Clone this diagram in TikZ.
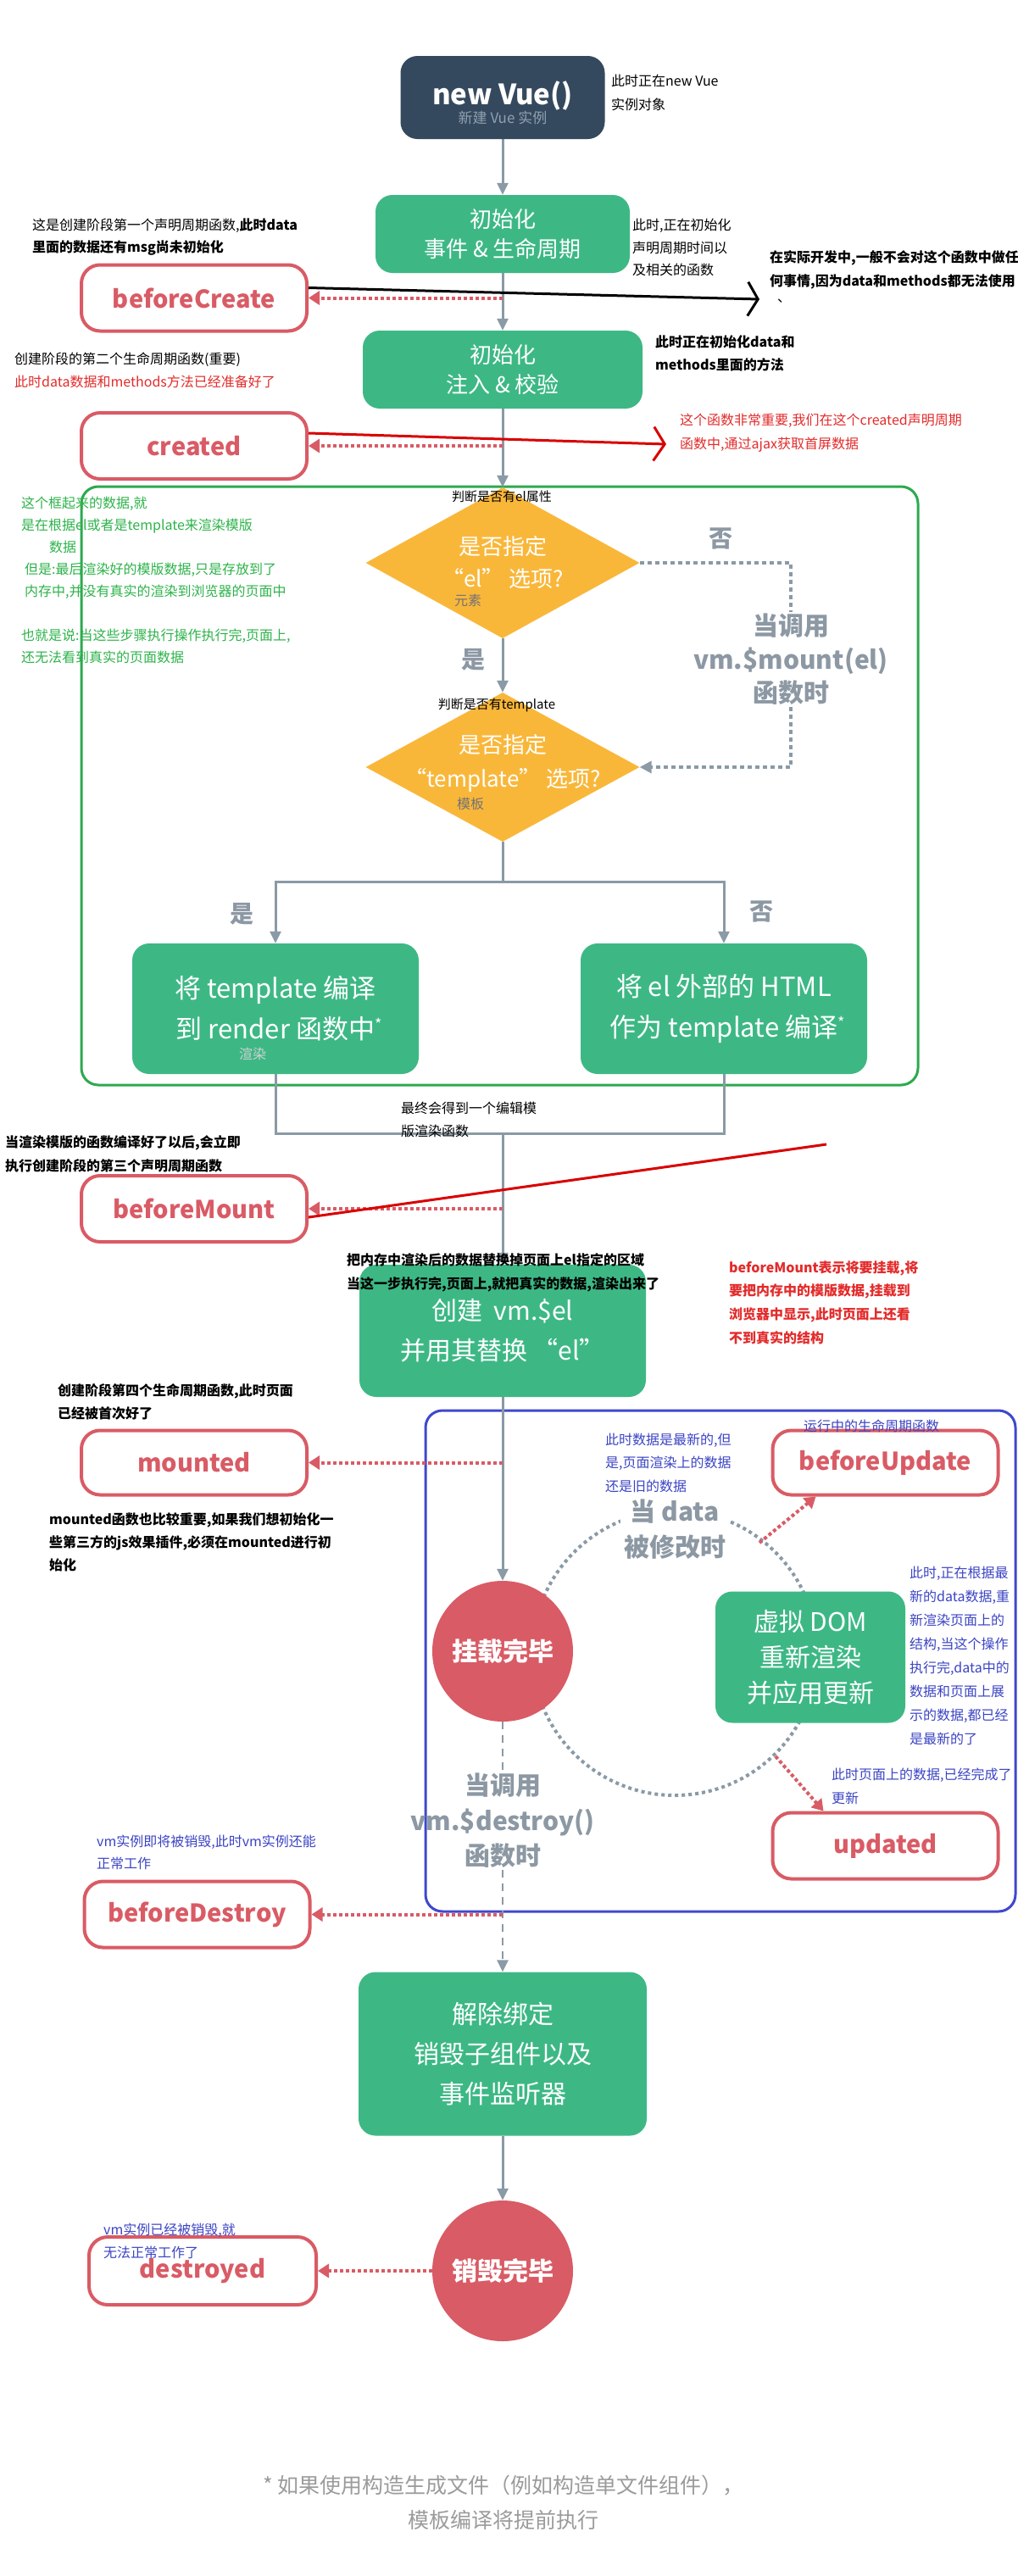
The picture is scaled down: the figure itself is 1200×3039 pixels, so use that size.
\documentclass[tikz,border=0pt]{standalone}
\usepackage{fontspec}
\setmainfont{Noto Sans CJK SC}
\usetikzlibrary{shapes.geometric,arrows.meta,calc}
\definecolor{vgreen}{HTML}{3DB885}
\definecolor{vdark}{HTML}{35495E}
\definecolor{vred}{HTML}{D95B65}
\definecolor{vorange}{HTML}{F9B73A}
\definecolor{vgray}{HTML}{8A9AA6}
\definecolor{txtgray}{HTML}{8C98A3}
\definecolor{subgray}{HTML}{8FA0B0}
\definecolor{frameg}{HTML}{2DA94F}
\definecolor{frameb}{HTML}{3F48CC}
\definecolor{annr}{HTML}{E32B2B}
\definecolor{anng}{HTML}{2DB34A}
\definecolor{annb}{HTML}{3B44C4}
\definecolor{footg}{HTML}{9B9B9B}
\newcommand{\fsz}[2]{\fontsize{#1pt}{#2pt}\selectfont}
\pgfdeclarelayer{bgzero}\pgfdeclarelayer{bgone}
\pgfsetlayers{bgzero,bgone,main}
\tikzset{
  gbox/.style={fill=vgreen, rounded corners=20pt, text=white, inner sep=0pt, align=center},
  hook/.style={draw=vred, line width=4pt, fill=white, rounded corners=22pt, text=vred, inner sep=0pt,
    minimum width=266pt, minimum height=78pt, font=\fsz{29}{29}\bfseries},
  decis/.style={diamond, fill=vorange, inner sep=0pt, minimum width=323pt, minimum height=178pt},
  endc/.style={circle, fill=vred, inner sep=0pt, minimum size=166pt, text=white, font=\fsz{30}{30}\bfseries},
  flow/.style={draw=vgray, line width=3pt},
  flowarr/.style={flow, -{Triangle[length=14pt,width=13pt]}},
  hookarr/.style={draw=vred, line width=4pt, dash pattern=on 4pt off 3pt, -{Triangle[length=13pt,width=16pt]}},
  mountline/.style={draw=vgray, line width=3.5pt, dash pattern=on 5pt off 4pt},
  destline/.style={draw=vgray, line width=2.5pt, dash pattern=on 9pt off 7pt},
  arcline/.style={draw=vgray, line width=4pt, dash pattern=on 4pt off 4pt},
  note/.style={anchor=west, align=left, inner sep=0pt},
  glabel/.style={text=txtgray, align=center, inner sep=2pt},
  small/.style={inner sep=0pt, font=\fsz{15}{15}},
}
\begin{document}
\begin{tikzpicture}[x=1pt,y=-1pt]
\begin{pgfonlayer}{bgzero}
\fill[white] (0,0) rectangle (1200,3039);
\end{pgfonlayer}
\useasboundingbox (0,0) rectangle (1200,3039);

% ---- main flow nodes ----
\node[fill=vdark, rounded corners=20pt, minimum width=241pt, minimum height=98pt, inner sep=0pt] (newvue) at (593,115) {};
\node[text=white, align=center, inner sep=0pt] (newvuet) at (593,121) {{\fsz{33}{37}\bfseries new Vue()}\\{\fsz{17}{37}\color{subgray}新建 Vue 实例}};
\node[gbox, minimum width=300pt, minimum height=92pt, font=\fsz{26}{35}] (init1) at (593,276) {初始化\\事件 \& 生命周期};
\node[gbox, minimum width=330pt, minimum height=92pt, font=\fsz{26}{35}] (init2) at (593,436) {初始化\\注入 \& 校验};
\node[decis] (d1) at (593,664) {};
\node[text=white, align=center, inner sep=0pt, font=\fsz{26}{38}] (d1t) at (593,664) {是否指定\\“el” 选项?};
\node[decis, minimum height=176pt] (d2) at (593,905) {};
\node[text=white, align=center, inner sep=0pt, font=\fsz{26}{40}] (d2t) at (593,900) {是否指定\\“template” 选项?};
\node[gbox, minimum width=338pt, minimum height=154pt, font=\fsz{31}{48}] (tplL) at (325,1190) {将 template 编译\\到 render 函数中\rlap{\raisebox{10pt}{\fsz{18}{18}*}}};
\node[gbox, minimum width=338pt, minimum height=154pt, font=\fsz{31}{48}] (tplR) at (854,1190) {将 el 外部的 HTML\\作为 template 编译\rlap{\raisebox{10pt}{\fsz{18}{18}*}}};
\node[gbox, minimum width=338pt, minimum height=156pt, font=\fsz{30}{47}] (create) at (593,1570) {创建 \ vm.\$el\\并用其替换 “el”};
\node[endc] (mountc) at (593,1948) {挂载完毕};
\node[gbox, minimum width=224pt, minimum height=155pt, font=\fsz{30}{42}] (vdom) at (956,1955) {虚拟 DOM\\重新渲染\\并应用更新};
\node[gbox, minimum width=340pt, minimum height=193pt, font=\fsz{30}{47}] (unbind) at (593,2423) {解除绑定\\销毁子组件以及\\事件监听器};
\node[endc] (destroyc) at (593,2679) {销毁完毕};

% ---- hook boxes ----
\node[hook] (bc) at (229,351.5) {beforeCreate};
\node[hook] (cr) at (229,526) {created};
\node[hook] (bm) at (229,1426) {beforeMount};
\node[hook, minimum height=76pt] (mt) at (229,1725.5) {mounted};
\node[hook, minimum height=76pt] (bu) at (1044.5,1725.5) {beforeUpdate};
\node[hook] (up) at (1044.5,2177.5) {updated};
\node[hook] (bd) at (232.5,2258.5) {beforeDestroy};
\node[hook, minimum width=268pt, minimum height=80pt] (ds) at (239,2679) {destroyed};

% ---- gray labels ----
\node[glabel, font=\fsz{28}{28}\bfseries] (no1) at (850,635) {否};
\node[glabel, font=\fsz{28}{28}\bfseries] (yes1) at (558,778) {是};
\node[glabel, font=\fsz{30}{39.5}\bfseries] (mountt) at (933,778) {当调用\\vm.\$mount(el)\\函数时};
\node[glabel, font=\fsz{28}{28}\bfseries] (yes2) at (285,1078) {是};
\node[glabel, font=\fsz{28}{28}\bfseries] (no2) at (898,1075) {否};
\node[glabel, font=\fsz{30}{42}\bfseries, fill=white, inner sep=4pt] (datat) at (796,1804) {当 data\\被修改时};
\node[glabel, font=\fsz{30}{41.5}\bfseries] (destt) at (593,2148) {当调用\\vm.\$destroy()\\函数时};

% ---- small labels ----
\node[small] (l1) at (592,586) {判断是否有el属性};
\node[small, font=\fsz{16}{16}, text=black!55] (l2) at (552,708) {元素};
\node[small] (l3) at (586,832) {判断是否有template};
\node[small, font=\fsz{16}{16}, text=black!55] (l4) at (555,948) {模板};
\node[small, font=\fsz{16}{16}, text=white!82!black] (l5) at (298,1243) {渲染};

% ---- annotations ----
\node[note, font=\fsz{16}{28}] (a1) at (721,109) {此时正在new Vue\\实例对象};
\node[note, font=\fsz{16}{26.5}] (a2) at (746,292) {此时,正在初始化\\声明周期时间以\\及相关的函数};
\node[note, font=\fsz{16}{26}] (a3) at (38,280) {这是创建阶段第一个声明周期函数,\textbf{此时data}\\\textbf{里面的数据还有msg尚未初始化}};
\node[note, font=\fsz{16}{28}\bfseries] (a4) at (908,318) {在实际开发中,一般不会对这个函数中做任\\何事情,因为data和methods都无法使用};
\node[inner sep=0pt, font=\fsz{16}{16}] (a4b) at (925,355) {、};
\node[note, font=\fsz{16}{27}\bfseries] (a5) at (773,416.5) {此时正在初始化data和\\methods里面的方法};
\node[note, font=\fsz{16}{27}] (a6) at (17,436.5) {创建阶段的第二个生命周期函数(重要)\\\textcolor{annr}{此时data数据和methods方法已经准备好了}};
\node[note, font=\fsz{16}{28}, text=annr] (a7) at (802,511) {这个函数非常重要,我们在这个created声明周期\\函数中,通过ajax获取首屏数据};
\node[note, font=\fsz{16}{26}, text=anng] (a8) at (25,684) {这个框起来的数据,就\\是在根据el或者是template来渲染模版\\\hspace*{33pt}数据\\\hspace*{4pt}但是:最后渲染好的模版数据,只是存放到了\\\hspace*{4pt}内存中,并没有真实的渲染到浏览器的页面中\\[26pt]也就是说:当这些步骤执行操作执行完,页面上,\\还无法看到真实的页面数据};
\node[note, font=\fsz{16}{27}] (a9) at (473,1320.5) {最终会得到一个编辑模\\版渲染函数};
\node[note, font=\fsz{16}{28}\bfseries] (a10) at (6,1361) {当渲染模版的函数编译好了以后,会立即\\执行创建阶段的第三个声明周期函数};
\node[note, font=\fsz{16}{28}\bfseries] (a11) at (409,1501) {把内存中渲染后的数据替换掉页面上el指定的区域\\当这一步执行完,页面上,就把真实的数据,渲染出来了};
\node[note, font=\fsz{16}{27.7}\bfseries, text=annr] (a12) at (860,1536.5) {beforeMount表示将要挂载,将\\要把内存中的模版数据,挂载到\\浏览器中显示,此时页面上还看\\不到真实的结构};
\node[note, font=\fsz{16}{27}\bfseries] (a13) at (68,1653.5) {创建阶段第四个生命周期函数,此时页面\\已经被首次好了};
\node[note, font=\fsz{16}{16}, text=annb] (a14) at (948,1682) {运行中的生命周期函数};
\node[note, font=\fsz{16}{27.5}, text=annb] (a15) at (714,1725.5) {此时数据是最新的,但\\是,页面渲染上的数据\\还是旧的数据};
\node[note, font=\fsz{16}{27}\bfseries] (a16) at (58,1819) {mounted函数也比较重要,如果我们想初始化一\\些第三方的js效果插件,必须在mounted进行初\\始化};
\node[note, font=\fsz{16}{28.1}, text=annb] (a17) at (1073,1953.5) {此时,正在根据最\\新的data数据,重\\新渲染页面上的\\结构,当这个操作\\执行完,data中的\\数据和页面上展\\示的数据,都已经\\是最新的了};
\node[note, font=\fsz{16}{28}, text=annb] (a18) at (981,2107) {此时页面上的数据,已经完成了\\更新};
\node[note, font=\fsz{16}{26}, text=annb] (a19) at (114,2185) {vm实例即将被销毁,此时vm实例还能\\正常工作};
\node[note, font=\fsz{16}{27}, text=annb] (a20) at (122,2643.5) {vm实例已经被销毁,就\\无法正常工作了};
\node[align=center, inner sep=0pt, font=\fsz{25}{41}, text=footg] (foot) at (594,2952.5) {* 如果使用构造生成文件（例如构造单文件组件），\\模板编译将提前执行};

% ---- coordinates ----
\coordinate (jn) at (593,1040);
\coordinate (merge) at (593,1337);
\coordinate (arcc) at (796,1950);
\coordinate (ua) at (896,1820);
\coordinate (ub) at (915,2072);
\coordinate (blk) at (896,353);
\coordinate (rtip) at (786,524);
\coordinate (rl1) at (975,1350);

% ---- background connectors ----
\begin{pgfonlayer}{bgone}
\draw[frameg, line width=3pt, rounded corners=20pt] (96,574) rectangle (1083,1280);
\draw[frameb, line width=3pt, rounded corners=20pt] (502,1664) rectangle (1198,2255);
\draw[arcline] (arcc) circle[radius=168pt];
\draw[flowarr] (newvue.south) -- (init1.north);
\draw[flowarr] (init1.south) -- (init2.north);
\draw[flowarr] (init2.south) -- (d1.north);
\draw[flowarr] (d1.south) -- (d2.north);
\draw[flow] (d2.south) -- (jn);
\draw[flowarr] (jn) -| (tplL.north);
\draw[flowarr] (jn) -| (tplR.north);
\draw[flow] (tplL.south) |- (merge) -| (tplR.south);
\draw[flowarr] (merge) -- (create.north);
\draw[flowarr] (create.south) -- (mountc.north);
\draw[destline] (mountc.south) -- (destt.north);
\draw[destline, -{Triangle[length=14pt,width=13pt]}] (destt.south) -- (unbind.north);
\draw[flowarr] (unbind.south) -- (destroyc.north);
\draw[mountline] (d1.east) -| (mountt.north);
\draw[mountline, -{Triangle[length=14pt,width=14pt]}] (mountt.south) |- (d2.east);
\draw[hookarr] (init1.south |- bc.east) -- (bc.east);
\draw[hookarr] (init2.south |- cr.east) -- (cr.east);
\draw[hookarr] (merge |- bm.east) -- (bm.east);
\draw[hookarr] (create.south |- mt.east) -- (mt.east);
\draw[hookarr] (mountc.south |- bd.east) -- (bd.east);
\draw[hookarr] (destroyc.west) -- (ds.east);
\draw[hookarr] (ua) -- ([xshift=-82pt]bu.south);
\draw[hookarr] (ub) -- ([xshift=-73pt]up.north);
\end{pgfonlayer}

% ---- hand-drawn marks ----
\draw[black, line width=3pt, -{Straight Barb[length=12pt,width=40pt]}] ([yshift=12pt]bc.east) -- (blk);
\draw[red!85!black, line width=3pt, -{Straight Barb[length=13pt,width=40pt]}] ([yshift=15pt]cr.east) -- (rtip);
\draw[red!85!black, line width=3pt] (rl1) -- ([yshift=-10pt]bm.east);
\end{tikzpicture}
\end{document}
